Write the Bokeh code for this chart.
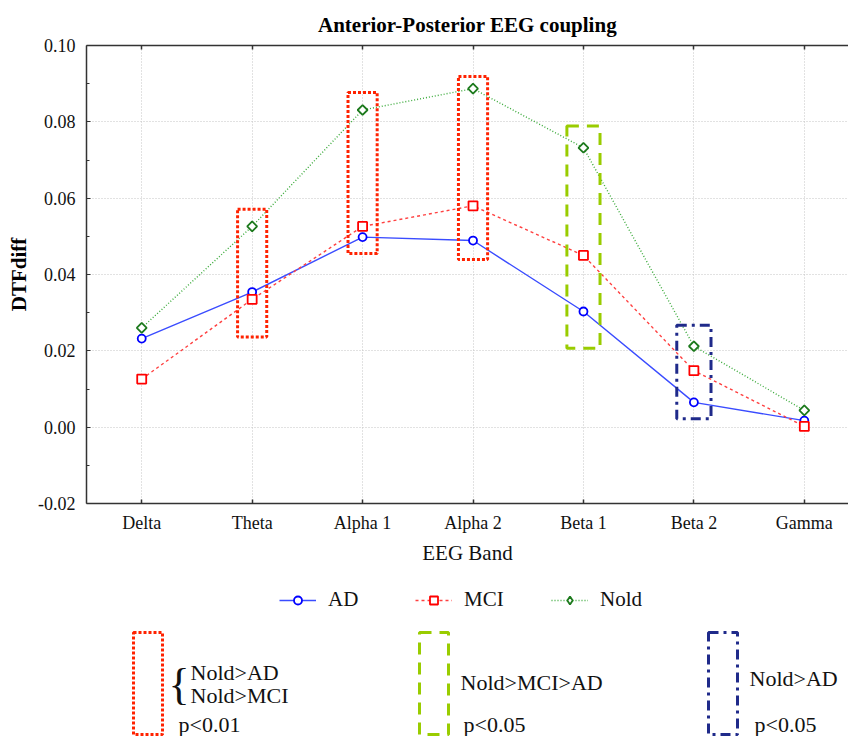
import math
from bokeh.plotting import figure
from bokeh.models import (Range1d, FixedTicker, PrintfTickFormatter, LinearAxis,
                          Legend, LegendItem)
from bokeh.layouts import column
from bokeh.embed import file_html
from bokeh.resources import INLINE
from bokeh.core.properties import value

# ---------------- data ----------------
bands = ["Delta", "Theta", "Alpha 1", "Alpha 2", "Beta 1", "Beta 2", "Gamma"]
ad = [0.0232, 0.0354, 0.0498, 0.0489, 0.0303, 0.0065, 0.0017]
mci = [0.0126, 0.0335, 0.0526, 0.0580, 0.0450, 0.0148, 0.0002]
nold = [0.0260, 0.0526, 0.0831, 0.0887, 0.0732, 0.0212, 0.0044]

# significance boxes (band, upper, lower, kind)
box_band = ["Theta", "Alpha 1", "Alpha 2", "Beta 1", "Beta 2"]
box_top = [0.0571, 0.0877, 0.0919, 0.0789, 0.0267]
box_bottom = [0.0236, 0.0455, 0.0439, 0.0207, 0.0022]
box_kind = ["p01", "p01", "p01", "p05_all", "p05_ad"]

y_ticks = [-0.02, 0.0, 0.02, 0.04, 0.06, 0.08, 0.10]
y_minor = [-0.01, 0.01, 0.03, 0.05, 0.07, 0.09]

series_names = ["AD", "MCI", "Nold"]
key_kinds = ["p01", "p05_all", "p05_ad"]
key_text = [["Nold>AD", "Nold>MCI"], ["Nold>MCI>AD"], ["Nold>AD"]]
key_p = ["p<0.01", "p<0.05", "p<0.05"]

# ---------------- styles ----------------
FONT = "Liberation Serif"
W = 848
H1 = 567
H2 = 169
styles = {
    "p01": dict(line_color="#ff2200", line_width=3, line_dash="3 2", half=0.132),
    "p05_all": dict(line_color="#99cc00", line_width=3, line_dash="12 8", half=0.15),
    "p05_ad": dict(line_color="#1f2a8a", line_width=3, line_dash="10 5 3 5", half=0.155),
}
sstyle = {
    "AD": dict(line=dict(line_color="#3a4cff", line_width=1.4),
               pts=dict(marker="circle", size=8, line_color="#0000ff", line_width=1.8,
                        fill_color="white")),
    "MCI": dict(line=dict(line_color="#ff4040", line_width=1.4, line_dash="3 3"),
                pts=dict(marker="square", size=9, line_color="#ff0000", line_width=1.8,
                         fill_color="white")),
    "Nold": dict(line=dict(line_color="#3aaa3a", line_width=1.4, line_dash="1 2"),
                 pts=dict(marker="square", size=7, angle=math.pi / 4, line_color="#1d7a1d",
                          line_width=1.8, fill_color="white")),
}
legend_pts = {
    "AD": sstyle["AD"]["pts"],
    "MCI": sstyle["MCI"]["pts"],
    "Nold": dict(marker="diamond", size=11, line_color="#1d7a1d", line_width=1.8,
                 fill_color="white"),
}

xs = list(range(len(bands)))
pos = {b: i for i, b in enumerate(bands)}

p = figure(width=W, height=H1, x_range=Range1d(-0.5, 6.40), y_range=Range1d(-0.02, 0.10),
           output_backend="svg", toolbar_location=None,
           min_border_left=86, min_border_right=0, min_border_top=45, min_border_bottom=62)
p.outline_line_color = None
p.background_fill_color = "white"

# title
p.title.text = "Anterior-Posterior EEG coupling"
p.title.align = "center"
p.title.vertical_align = "middle"
p.title.text_font = FONT
p.title.text_font_size = "21px"
p.title.text_font_style = "bold"
p.title.text_color = "black"
p.title.standoff = 15

AX = "#333333"
# bottom axis
xa = p.xaxis[0]
xa.ticker = FixedTicker(ticks=xs)
xa.major_label_overrides = {i: b for i, b in enumerate(bands)}
xa.major_label_text_font = FONT
xa.major_label_text_font_size = "18px"
xa.major_label_text_color = "#111111"
xa.major_label_standoff = 9
xa.major_tick_in = 4
xa.major_tick_out = 0
xa.minor_tick_in = 0
xa.minor_tick_out = 0
xa.axis_line_color = AX
xa.axis_line_width = 1.5
xa.major_tick_line_color = AX
xa.major_tick_line_width = 1.5
xa.axis_label = "EEG Band"
xa.axis_label_text_font = FONT
xa.axis_label_text_font_size = "21px"
xa.axis_label_text_font_style = "normal"
xa.axis_label_text_color = "#111111"
xa.axis_label_standoff = 5

# left axis
ya = p.yaxis[0]
ya.ticker = FixedTicker(ticks=y_ticks, minor_ticks=y_minor)
ya.formatter = PrintfTickFormatter(format="%.2f")
ya.major_label_text_font = FONT
ya.major_label_text_font_size = "18px"
ya.major_label_text_color = "#111111"
ya.major_label_standoff = 11
ya.major_tick_in = 4
ya.major_tick_out = 0
ya.minor_tick_in = 3
ya.minor_tick_out = 0
ya.axis_line_color = AX
ya.axis_line_width = 1.5
ya.major_tick_line_color = AX
ya.minor_tick_line_color = AX
ya.axis_label = "DTFdiff"
ya.axis_label_text_font = FONT
ya.axis_label_text_font_size = "21px"
ya.axis_label_text_font_style = "bold"
ya.axis_label_text_color = "black"
ya.axis_label_standoff = 4

# top axis (ticks only)
ta = LinearAxis(ticker=FixedTicker(ticks=xs))
ta.major_label_overrides = {i: "" for i in xs}
ta.major_label_text_font_size = "1px"
ta.major_label_standoff = 0
ta.major_tick_in = 4
ta.major_tick_out = 0
ta.minor_tick_in = 0
ta.minor_tick_out = 0
ta.axis_line_color = AX
ta.axis_line_width = 1.5
ta.major_tick_line_color = AX
ta.major_tick_line_width = 1.5
p.add_layout(ta, "above")

# grids
p.xgrid.ticker = FixedTicker(ticks=xs)
p.ygrid.ticker = FixedTicker(ticks=y_ticks)
for g in (p.xgrid, p.ygrid):
    g.grid_line_color = "#c4c4c4"
    g.grid_line_dash = "1 2"
    g.grid_line_width = 1

# series
for name, vals in zip(series_names, [ad, mci, nold]):
    p.line(xs, vals, **sstyle[name]["line"])
    p.scatter(xs, vals, **sstyle[name]["pts"])

# significance boxes
for kind in key_kinds:
    st = styles[kind]
    idx = [i for i, k in enumerate(box_kind) if k == kind]
    cx = [pos[box_band[i]] for i in idx]
    p.quad(left=[c - st["half"] for c in cx], right=[c + st["half"] for c in cx],
           top=[box_top[i] for i in idx], bottom=[box_bottom[i] for i in idx],
           fill_color=None, line_color=st["line_color"], line_width=st["line_width"],
           line_dash=st["line_dash"])

# ---------------- legend + key panel ----------------
q = figure(width=W, height=H2, x_range=Range1d(86, W), y_range=Range1d(H2, 0),
           output_backend="svg", toolbar_location=None, x_axis_type=None, y_axis_type=None,
           min_border_left=86, min_border_right=0, min_border_top=0, min_border_bottom=0)
q.outline_line_color = None
q.grid.visible = False

nan = float("nan")
items = []
for name in series_names:
    # style proxies for the legend (no visible data)
    r_line = q.line(x=[nan], y=[nan], **sstyle[name]["line"])
    r_pts = q.scatter(x=[nan], y=[nan], **legend_pts[name])
    items.append(LegendItem(label=name, renderers=[r_line, r_pts], index=0))

legend = Legend(items=items, orientation="horizontal", location=(193, 124),
                glyph_width=37, glyph_height=20, label_width=55, label_height=20,
                label_standoff=12, spacing=32, padding=0, margin=0,
                border_line_color=None, background_fill_alpha=0,
                label_text_font=FONT, label_text_font_size="21px",
                label_text_color="#111111")
q.add_layout(legend)

key_left = [133, 419, 708]
key_w = 29
for kx, kind in zip(key_left, key_kinds):
    st = styles[kind]
    q.quad(left=[kx], right=[kx + key_w], top=[65], bottom=[167], fill_color=None,
           line_color=st["line_color"], line_width=st["line_width"], line_dash=st["line_dash"])

tfont = dict(text_font=value(FONT), text_font_size="22px", text_color="#111111",
             text_baseline="middle", text_align="left")
# first key: bracketed pair
q.text(x=[168], y=[117], text=["{"], text_font=value(FONT), text_font_size="44px",
       text_color="#111111", text_baseline="middle", text_align="left")
q.text(x=[190, 190], y=[105, 128], text=key_text[0], **tfont)
q.text(x=[460], y=[115], text=key_text[1], **tfont)
q.text(x=[749], y=[111], text=key_text[2], **tfont)
q.text(x=[178, 463, 754], y=[157, 157, 157], text=key_p, **tfont)

layout = column(p, q, spacing=0)
open("out.html", "w").write(file_html(layout, INLINE))
